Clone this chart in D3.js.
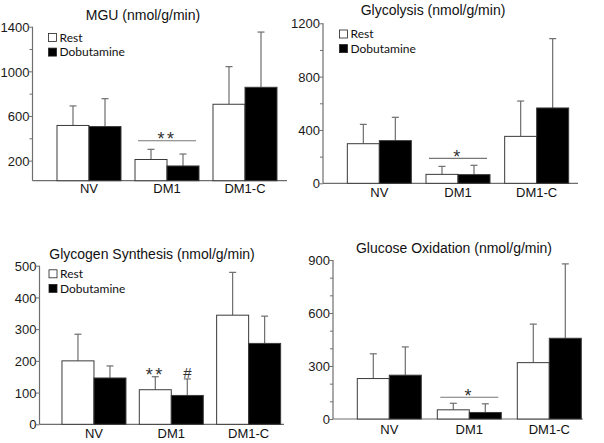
<!DOCTYPE html>
<html><head><meta charset="utf-8">
<script src="https://cdn.jsdelivr.net/npm/d3@7"></script>
<style>
body{margin:0;background:#fff;}
svg{display:block;}
.tick text{font-family:"Liberation Sans",Arial,sans-serif;}
</style></head>
<body><svg id="c" width="604" height="443"></svg>
<script>
// ---- data ----
const groups = ["NV", "DM1", "DM1-C"];
const seriesNames = ["Rest", "Dobutamine"];

const mguTitle = "MGU (nmol/g/min)";
const mguRest = [515, 210, 705];
const mguRestSD = [175, 91, 337];
const mguDob = [505, 152, 857];
const mguDobSD = [250, 107, 495];
const mguTicks = [200, 400, 600, 800, 1000, 1200, 1400];
const mguLabels = [200, 600, 1000, 1400];

const glyTitle = "Glycolysis (nmol/g/min)";
const glyRest = [297, 67, 352];
const glyRestSD = [145, 60, 265];
const glyDob = [320, 65, 565];
const glyDobSD = [175, 70, 520];
const glyTicks = [0, 200, 400, 600, 800, 1000, 1200];
const glyLabels = [0, 400, 800, 1200];

const gsyTitle = "Glycogen Synthesis (nmol/g/min)";
const gsyRest = [200, 109, 344];
const gsyRestSD = [84, 41, 135];
const gsyDob = [146, 91, 255];
const gsyDobSD = [38, 52, 86];
const gsyTicks = [0, 100, 200, 300, 400, 500];
const gsyLabels = [0, 100, 200, 300, 400, 500];

const goxTitle = "Glucose Oxidation (nmol/g/min)";
const goxRest = [229, 52, 319];
const goxRestSD = [140, 37, 218];
const goxDob = [248, 37, 457];
const goxDobSD = [160, 49, 421];
const goxTicks = [0, 100, 200, 300, 400, 500, 600, 700, 800, 900];
const goxLabels = [0, 300, 600, 900];

// ---- drawing ----
const svg = d3.select("#c");
const FONT = '"Liberation Sans", Arial, sans-serif';
const AXC = "#6e6e6e";

function panel(o) {
  const g = svg.append("g");
  const y = d3.scaleLinear().domain(o.domain).range(o.yRange);
  const x = d3.scaleBand().domain(groups).range(o.xRange);
  const bw = 32;

  // y axis
  const ax = d3.axisLeft(y).tickValues(o.ticks)
    .tickSize(0).tickFormat(d => o.labels.includes(d) ? d : "");
  const ag = g.append("g").attr("transform", `translate(${o.axisX},0)`).call(ax);
  ag.select(".domain").remove();
  ag.selectAll(".tick line").remove();
  ag.selectAll(".tick").append("line")
    .attr("x1", d => o.labels.includes(d) ? -4 : -3).attr("x2", 0)
    .attr("stroke", AXC).attr("stroke-width", 1);
  ag.selectAll(".tick text").attr("x", -3).attr("fill", "#1a1a1a")
    .attr("font-size", 13).attr("font-family", FONT).attr("dy", "0.36em");
  g.append("line").attr("x1", o.axisX).attr("x2", o.axisX)
    .attr("y1", o.yRange[0]).attr("y2", y(o.ticks[o.ticks.length - 1]))
    .attr("stroke", AXC).attr("stroke-width", 1.2);
  // x baseline
  g.append("line").attr("x1", o.axisX).attr("x2", o.xEnd)
    .attr("y1", o.yRange[0]).attr("y2", o.yRange[0])
    .attr("stroke", AXC).attr("stroke-width", 1.2);

  // bars
  const series = [
    {vals: o.rest, sd: o.restSD, fill: "#fff", off: -bw},
    {vals: o.dob, sd: o.dobSD, fill: "#000", off: 0}
  ];
  series.forEach(s => {
    groups.forEach((gr, i) => {
      const cx = x(gr) + x.bandwidth() / 2;
      const left = cx + s.off;
      const mid = left + bw / 2;
      const top = y(s.vals[i]);
      const etop = y(s.vals[i] + s.sd[i]);
      g.append("line").attr("x1", mid).attr("x2", mid).attr("y1", top).attr("y2", etop)
        .attr("stroke", AXC).attr("stroke-width", 1.2);
      g.append("line").attr("x1", mid - 3.5).attr("x2", mid + 3.5).attr("y1", etop).attr("y2", etop)
        .attr("stroke", AXC).attr("stroke-width", 1.2);
      g.append("rect").attr("x", left).attr("y", top)
        .attr("width", bw).attr("height", o.yRange[0] - top)
        .attr("fill", s.fill).attr("stroke", "#3a3a3a").attr("stroke-width", 1);
    });
  });

  // x labels
  groups.forEach(gr => {
    g.append("text").attr("x", x(gr) + x.bandwidth() / 2).attr("y", o.yRange[0] + o.labelDy)
      .attr("text-anchor", "middle").attr("font-family", FONT).attr("font-size", 13)
      .attr("fill", "#111").text(gr);
  });

  // title
  g.append("text").attr("x", o.titleX).attr("y", o.titleY).attr("text-anchor", "middle")
    .attr("font-family", FONT).attr("font-size", 14).attr("fill", "#111").text(o.title);

  // legend
  if (o.legend) {
    seriesNames.forEach((n, i) => {
      const ly = o.legend[1] + i * 14.6;
      g.append("rect").attr("x", o.legend[0]).attr("y", ly - 4).attr("width", 8).attr("height", 8)
        .attr("fill", i ? "#000" : "#fff").attr("stroke", "#222").attr("stroke-width", 0.8);
      g.append("text").attr("x", o.legend[0] + 11).attr("y", ly + 4.3)
        .attr("font-family", 'Lato, "Open Sans", sans-serif').attr("font-size", 12)
        .attr("fill", "#111").text(n);
    });
  }

  // significance
  if (o.sigLine) {
    const cx = x("DM1") + x.bandwidth() / 2;
    const ly = y(o.sigLine.v);
    g.append("line").attr("x1", cx - 29).attr("x2", cx + 29).attr("y1", ly).attr("y2", ly)
      .attr("stroke", "#777").attr("stroke-width", 1.2);
    g.append("text").attr("x", cx).attr("y", ly + 4.5).attr("text-anchor", "middle")
      .attr("font-family", FONT).attr("font-size", 18).attr("letter-spacing", 2.5)
      .attr("fill", "#333").text(o.sigLine.t);
  }
  if (o.sigMarks) {
    const cx = x("DM1") + x.bandwidth() / 2;
    o.sigMarks.forEach((m, i) => {
      const vals = i ? o.dob : o.rest, sd = i ? o.dobSD : o.restSD;
      const mx = cx + (i ? bw / 2 : -bw / 2);
      const ty = y(vals[1] + sd[1]);
      g.append("text").attr("x", mx).attr("y", ty - (i ? 1 : -4)).attr("text-anchor", "middle")
        .attr("font-family", FONT).attr("font-size", i ? 15 : 18).attr("letter-spacing", i ? 0 : 2.5)
        .attr("fill", "#333").text(m);
    });
  }
}

panel({title: mguTitle, rest: mguRest, restSD: mguRestSD, dob: mguDob, dobSD: mguDobSD,
  ticks: mguTicks, labels: mguLabels, domain: [20, 1400], yRange: [180.7, 26.7],
  axisX: 32.5, xRange: [50, 284], xEnd: 287, labelDy: 12.5, titleX: 143, titleY: 20,
  legend: [48.5, 37.5], sigLine: {v: 378, t: "**"}});

panel({title: glyTitle, rest: glyRest, restSD: glyRestSD, dob: glyDob, dobSD: glyDobSD,
  ticks: glyTicks, labels: glyLabels, domain: [0, 1200], yRange: [183.3, 23.3],
  axisX: 323, xRange: [340, 576], xEnd: 578, labelDy: 14, titleX: 433, titleY: 15,
  legend: [339.5, 34], sigLine: {v: 187, t: "*"}});

panel({title: gsyTitle, rest: gsyRest, restSD: gsyRestSD, dob: gsyDob, dobSD: gsyDobSD,
  ticks: gsyTicks, labels: gsyLabels, domain: [0, 500], yRange: [424.3, 265.7],
  axisX: 39.5, xRange: [55.3, 287.3], xEnd: 284, labelDy: 13.5, titleX: 152, titleY: 259,
  legend: [49, 273.8], sigMarks: ["**", "#"]});

panel({title: goxTitle, rest: goxRest, restSD: goxRestSD, dob: goxDob, dobSD: goxDobSD,
  ticks: goxTicks, labels: goxLabels, domain: [0, 900], yRange: [419, 260],
  axisX: 333, xRange: [349.3, 589.3], xEnd: 583, labelDy: 14.5, titleX: 454, titleY: 253,
  sigLine: {v: 123, t: "*"}});
</script></body></html>
